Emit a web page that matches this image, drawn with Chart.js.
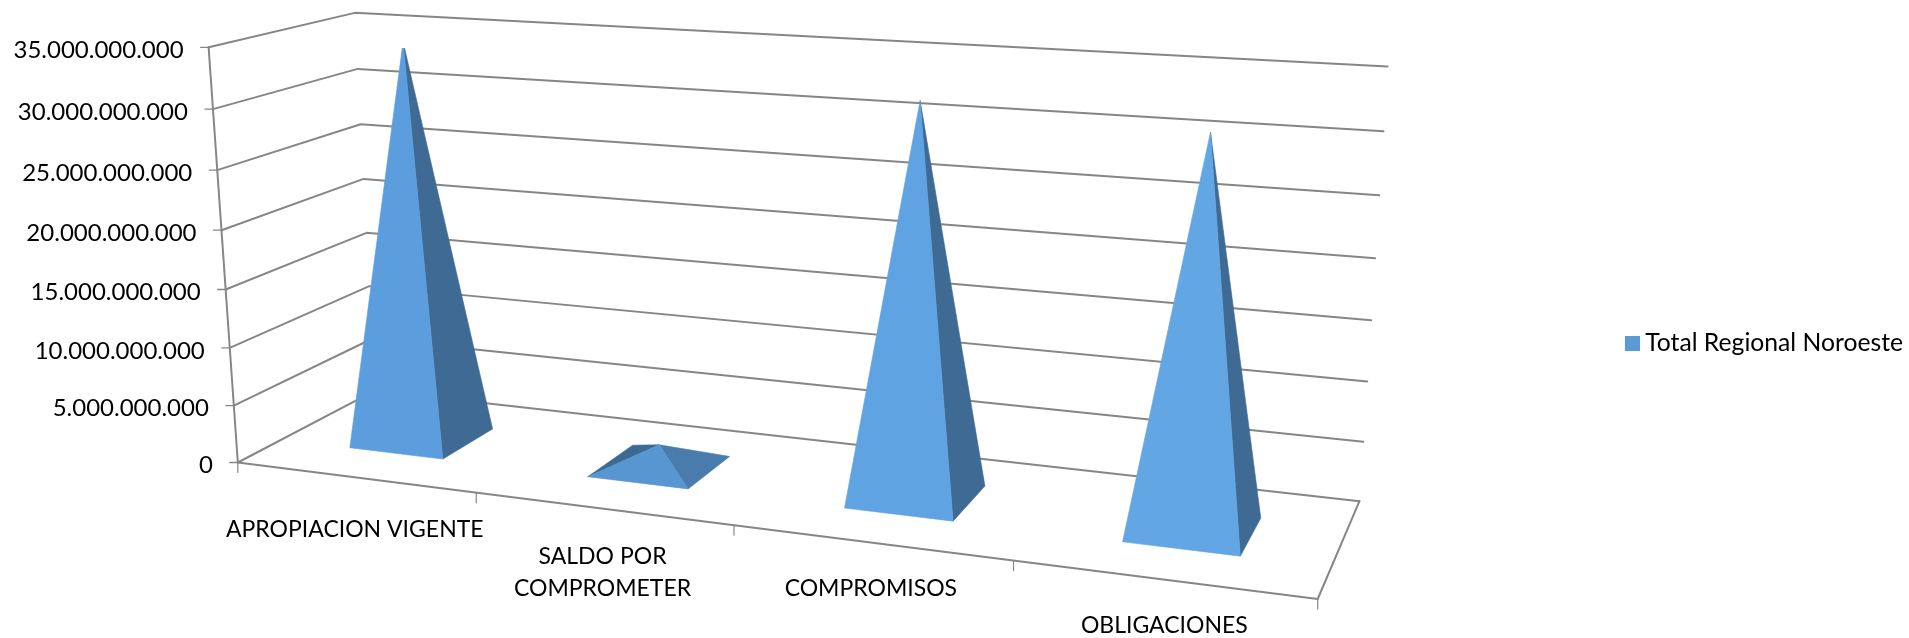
<!DOCTYPE html>
<html>
<head>
<meta charset="utf-8">
<style>html,body{margin:0;padding:0;background:#fff}canvas{display:block}</style>
<script src="https://cdn.jsdelivr.net/npm/chart.js@4/dist/chart.umd.js"></script>
</head>
<body>
<canvas id="c" width="1909" height="638" style="width:1909px;height:638px"></canvas>
<script>
const categories = ['APROPIACION VIGENTE', ['SALDO POR', 'COMPROMETER'], 'COMPROMISOS', 'OBLIGACIONES'];
const seriesName = 'Total Regional Noroeste';
const seriesValues = [34500000000, 1900000000, 32200000000, 31150000000];
const yTickLabels = ['0', '5.000.000.000', '10.000.000.000', '15.000.000.000', '20.000.000.000', '25.000.000.000', '30.000.000.000', '35.000.000.000'];

const X_FONT = { family: 'Lato', size: 23, lineHeight: 1.39 };
const Y_FONT = { family: 'Lato', size: 24 };
const LEGEND_FONT = { family: 'Lato', size: 24.7 };
const LINE = '#868686';
const SWATCH = '#5B9BD5';

// Camera: fits a projective map from the unit plot box (u across, d into depth, h up) to the page.
const frontLeft = [[237,461],[234,404],[230,348],[226,289],[222,231],[217,171],[213,110],[209,48]];
const backLeft  = [[377,396],[373,340],[369,285],[366,231],[362,178],[360,123],[358,68],[355,13]];
const backRight = [[1359,499],[1363,442],[1367,381],[1371,320],[1375,258],[1379,196],[1384,132],[1388,67]];
const frontEdge = [[0.25,475,492],[0.5,733,525],[0.75,1014,561],[1,1319,600]];

function solveCamera() {
  const rows = [];
  const add = (u, d, h, px, py) => {
    const x = px / 1000, y = py / 1000;
    rows.push([u, d, h, 1, 0, 0, 0, 0, -x * u, -x * d, -x * h, x]);
    rows.push([0, 0, 0, 0, u, d, h, 1, -y * u, -y * d, -y * h, y]);
  };
  for (let k = 0; k < 8; k++) {
    add(0, 0, k / 7, frontLeft[k][0], frontLeft[k][1]);
    add(0, 1, k / 7, backLeft[k][0], backLeft[k][1]);
    add(1, 1, k / 7, backRight[k][0], backRight[k][1]);
  }
  frontEdge.forEach(p => add(p[0], 0, 0, p[1], p[2]));
  const n = 11, A = [];
  for (let i = 0; i < n; i++) {
    A.push(new Array(n + 1).fill(0));
    for (let j = 0; j <= n; j++) rows.forEach(r => { A[i][j] += r[i] * r[j]; });
  }
  for (let c = 0; c < n; c++) {
    let best = c;
    for (let r = c + 1; r < n; r++) if (Math.abs(A[r][c]) > Math.abs(A[best][c])) best = r;
    [A[c], A[best]] = [A[best], A[c]];
    for (let r = 0; r < n; r++) {
      if (r === c) continue;
      const f = A[r][c] / A[c][c];
      for (let j = c; j <= n; j++) A[r][j] -= f * A[c][j];
    }
  }
  return A.map((r, i) => r[n] / r[i]);
}
const M = solveCamera();
function project(u, d, h) {
  const w = M[8] * u + M[9] * d + M[10] * h + 1;
  return {
    x: 1000 * (M[0] * u + M[1] * d + M[2] * h + M[3]) / w,
    y: 1000 * (M[4] * u + M[5] * d + M[6] * h + M[7]) / w
  };
}
function stroke(ctx, a, b, color, width) {
  ctx.beginPath();
  ctx.moveTo(a.x, a.y);
  ctx.lineTo(b.x, b.y);
  ctx.strokeStyle = color || LINE;
  ctx.lineWidth = width || 2;
  ctx.stroke();
}

class DepthLinearScale extends Chart.LinearScale {
  static id = 'depthLinear';
  static defaults = Chart.LinearScale.defaults;
  getPixelForDecimal(dec) { return project(0, 0, dec).y; }
  _computeLabelArea() { return undefined; }
  drawGrid() {
    const ctx = this.ctx;
    ctx.save();
    ctx.lineCap = 'round';
    ctx.lineJoin = 'round';
    this.ticks.forEach(t => {
      const h = (t.value - this.min) / (this.max - this.min);
      const f = project(0, 0, h), b = project(0, 1, h), r = project(1, 1, h);
      ctx.beginPath();
      ctx.moveTo(f.x, f.y);
      ctx.lineTo(b.x, b.y);
      ctx.lineTo(r.x, r.y);
      ctx.strokeStyle = LINE;
      ctx.lineWidth = 2;
      ctx.stroke();
      stroke(ctx, f, { x: f.x - 8, y: f.y }, LINE, 1.3);
    });
    stroke(ctx, project(0, 0, 0), project(0, 0, 1));
    ctx.restore();
  }
  _computeLabelItems(area) {
    const items = super._computeLabelItems(area);
    items.forEach((it, i) => {
      const h = (this.ticks[i].value - this.min) / (this.max - this.min);
      const p = project(0, 0, h);
      it.options.translation = [p.x - 25, p.y + 3];
    });
    return items;
  }
}

class DepthCategoryScale extends Chart.CategoryScale {
  static id = 'depthCategory';
  static defaults = Chart.CategoryScale.defaults;
  getPixelForDecimal(dec) { return project(dec, 0, 0).x; }
  _computeLabelArea() { return undefined; }
  drawGrid() {
    const ctx = this.ctx;
    ctx.save();
    ctx.lineCap = 'round';
    ctx.lineJoin = 'round';
    const a = project(0, 0, 0), b = project(1, 0, 0), c = project(1, 1, 0);
    ctx.beginPath();
    ctx.moveTo(a.x, a.y);
    ctx.lineTo(b.x, b.y);
    ctx.lineTo(c.x, c.y);
    ctx.strokeStyle = LINE;
    ctx.lineWidth = 2;
    ctx.stroke();
    for (let k = 0; k <= this.ticks.length; k++) {
      const p = project(k / this.ticks.length, 0, 0);
      stroke(ctx, p, { x: p.x, y: p.y + 10 }, LINE, 1.2);
    }
    ctx.restore();
  }
  _computeLabelItems(area) {
    const items = super._computeLabelItems(area);
    const nudgeY = [4, 0, -2, -2];
    const nudgeX = [0, 0, 0, 2];
    items.forEach((it, i) => {
      const dec = (this.ticks[i].value - this._startValue) / this._valueRange;
      const p = project(dec, 0, 0);
      it.options.translation = [p.x + nudgeX[i], p.y + 32 + nudgeY[i]];
    });
    return items;
  }
}

function mix(a, b, t) {
  const pa = [1, 3, 5].map(i => parseInt(a.substr(i, 2), 16));
  const pb = [1, 3, 5].map(i => parseInt(b.substr(i, 2), 16));
  return 'rgb(' + pa.map((v, i) => Math.round(v + (pb[i] - v) * t)).join(',') + ')';
}

class PyramidController extends Chart.BarController {
  static id = 'pyramid3d';
  static defaults = Chart.BarController.defaults;
  static overrides = Chart.BarController.overrides;
  draw() {
    const ctx = this._ctx, meta = this._cachedMeta;
    const xs = meta.iScale, ys = meta.vScale;
    const n = xs._valueRange;
    const halfU = 0.2 / n, d0 = 0.3, d1 = 0.7;
    ctx.save();
    ctx.lineJoin = 'round';
    meta._parsed.forEach(row => {
      const u = (row.x - xs._startValue) / xs._valueRange;
      const h = (row.y - ys.min) / (ys.max - ys.min);
      const fl = project(u - halfU, d0, 0), fr = project(u + halfU, d0, 0);
      const br = project(u + halfU, d1, 0), bl = project(u - halfU, d1, 0);
      const top = project(u, (d0 + d1) / 2, h);
      const face = (pts, color) => {
        ctx.beginPath();
        pts.forEach((p, k) => k ? ctx.lineTo(p.x, p.y) : ctx.moveTo(p.x, p.y));
        ctx.closePath();
        ctx.fillStyle = color;
        ctx.strokeStyle = color;
        ctx.lineWidth = 0.6;
        ctx.fill();
        ctx.stroke();
      };
      const flat = 1 - Math.min(1, h / 0.3);
      const tall = mix('#5B9DDC', '#63A7E5', u);
      const front = flat > 0.5 ? '#5896D1' : tall;
      const side = mix('#3E6A94', '#4B7FB2', flat);
      const cross = (bl.x - fl.x) * (top.y - fl.y) - (bl.y - fl.y) * (top.x - fl.x);
      if (cross > 0) face([fl, bl, top], '#3C6A92');
      face([fr, br, top], side);
      face([fl, fr, top], front);
    });
    ctx.restore();
  }
}

Chart.register(PyramidController, DepthLinearScale, DepthCategoryScale);

// Legend swatch sits at the right of a wider sprite so that it lies close to its text.
const swatch = document.createElement('canvas');
swatch.width = 29;
swatch.height = 15;
const swatchCtx = swatch.getContext('2d');
swatchCtx.fillStyle = SWATCH;
swatchCtx.fillRect(14, 0, 15, 15);

new Chart(document.getElementById('c'), {
  type: 'pyramid3d',
  data: {
    labels: categories,
    datasets: [{ label: seriesName, data: seriesValues, backgroundColor: SWATCH, borderWidth: 0 }]
  },
  options: {
    responsive: false,
    animation: false,
    events: [],
    devicePixelRatio: 1,
    layout: { padding: { top: 48, right: -4, left: 0, bottom: 0 } },
    plugins: {
      tooltip: { enabled: false },
      title: { display: false },
      legend: {
        display: true,
        position: 'right',
        labels: {
          usePointStyle: true,
          pointStyle: swatch,
          boxWidth: 15,
          boxHeight: 15,
          padding: 0,
          color: '#000',
          font: LEGEND_FONT
        }
      }
    },
    scales: {
      x: {
        type: 'depthCategory',
        offset: true,
        border: { display: false },
        grid: { display: true },
        ticks: { color: '#000', font: X_FONT, autoSkip: false, maxRotation: 0, minRotation: 0 }
      },
      y: {
        type: 'depthLinear',
        min: 0,
        max: 35000000000,
        border: { display: false },
        grid: { display: true },
        ticks: {
          color: '#000',
          font: Y_FONT,
          stepSize: 5000000000,
          callback: (v, i) => yTickLabels[i]
        }
      }
    }
  }
});
</script>
</body>
</html>
